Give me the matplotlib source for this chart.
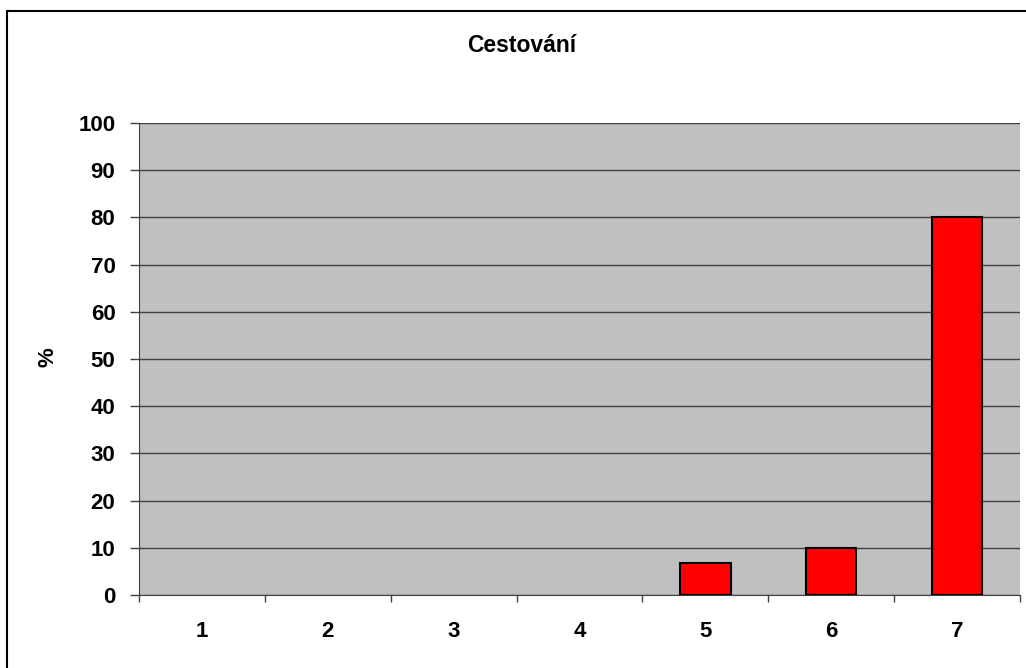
import matplotlib.pyplot as plt
import matplotlib.patches as mpatches
import numpy as np

categories = ['1', '2', '3', '4', '5', '6', '7']
values = [0, 0, 0, 0, 6.7, 10, 80]
yticks = [0, 10, 20, 30, 40, 50, 60, 70, 80, 90, 100]

plt.rcParams['font.family'] = ['Liberation Sans', 'DejaVu Sans']

fig = plt.figure(figsize=(10.26, 6.68), dpi=100)
W, H = 1026, 668

# chart border (extends past right/bottom edge as in the original)
fig.patches.append(mpatches.Rectangle((7 / W, -0.05), 1.1, 1 - 11 / H + 0.05,
                                      transform=fig.transFigure, fill=False,
                                      edgecolor='black', linewidth=1.5))

ax = fig.add_axes([139 / W, 1 - 595 / H, 881 / W, 472 / H])
ax.set_facecolor('#C0C0C0')

x = np.arange(len(categories))
edges = ['black' if v > 0 else 'none' for v in values]
ax.bar(x, values, width=0.4, color='#FF0000', edgecolor=edges, linewidth=1.5, zorder=3)

ax.set_xlim(-0.5, len(categories) - 0.5)
ax.set_ylim(0, 100)
ax.set_yticks(yticks)
ax.set_yticklabels([str(v) for v in yticks], fontsize=16, fontweight='bold')
ax.yaxis.grid(True, color='#404040', linewidth=1, zorder=1)
ax.set_axisbelow(True)

ax.set_xticks(x)
ax.set_xticklabels(categories, fontsize=16, fontweight='bold')
ax.set_xticks(np.arange(len(categories) + 1) - 0.5, minor=True)
ax.tick_params(axis='x', which='major', length=0, pad=18.5)
ax.tick_params(axis='x', which='minor', length=5, width=1, color='#404040', direction='out')
ax.tick_params(axis='y', length=6.5, width=1, color='#404040', pad=10.5)

for s in ['top', 'right']:
    ax.spines[s].set_visible(False)
ax.spines['left'].set_color('#404040')
ax.spines['bottom'].set_color('#404040')

fig.text(522 / W, 1 - 45 / H, 'Cestování', ha='center', va='center',
         fontsize=16.5, fontweight='bold')
fig.text(48 / W, 1 - 357 / H, '%', ha='center', va='center', rotation=90,
         fontsize=16, fontweight='bold')

fig.savefig('out.png', dpi=100)
